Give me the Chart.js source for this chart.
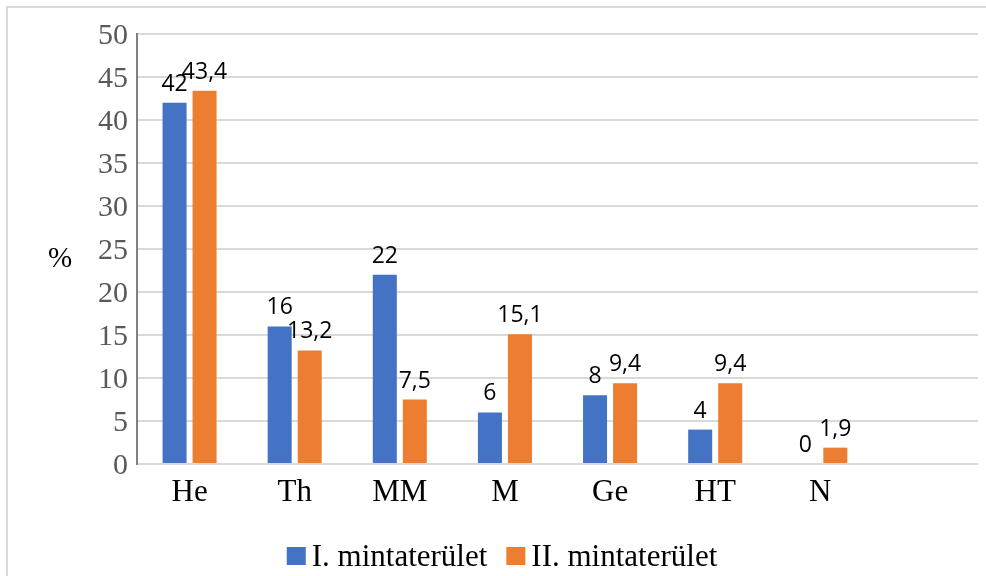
<!DOCTYPE html>
<html>
<head>
<meta charset="utf-8">
<script src="https://cdn.jsdelivr.net/npm/chart.js@4.4.1/dist/chart.umd.min.js"></script>
<style>
  html, body { margin: 0; padding: 0; background: #fff; overflow: hidden; }
  #wrap { width: 986px; height: 576px; position: relative; }
  canvas { display: block; }
</style>
</head>
<body>
<div id="wrap"><canvas id="c" width="986" height="576"></canvas></div>
<script>
// Categories (the last slot is intentionally empty)
const categories = ['He', 'Th', 'MM', 'M', 'Ge', 'HT', 'N', ''];
const seriesNames = ['I. mintaterület', 'II. mintaterület'];
const area1 = [42, 16, 22, 6, 8, 4, 0, null];
const area2 = [43.4, 13.2, 7.5, 15.1, 9.4, 9.4, 1.9, null];
const yMin = 0, yMax = 50, yStep = 5;
const unitLabel = '%';
const seriesColors = ['#4472C4', '#ED7D31'];

const SERIF = '"Liberation Serif", "Times New Roman", serif';
const SANS = '"Open Sans", "Liberation Sans", sans-serif';

// Light grey outer frame
const framePlugin = {
  id: 'frame',
  beforeDraw(chart) {
    const ctx = chart.ctx;
    ctx.save();
    ctx.fillStyle = '#d9d9d9';
    ctx.fillRect(6, 6, chart.width - 6, 2);
    ctx.fillRect(6, 6, 2, chart.height - 6);
    ctx.restore();
  }
};

// Value labels above each bar, decimal comma
const valueLabels = {
  id: 'valueLabels',
  afterDatasetsDraw(chart) {
    const ctx = chart.ctx;
    ctx.save();
    ctx.font = '23px ' + SANS;
    ctx.fillStyle = '#000';
    ctx.textAlign = 'center';
    ctx.textBaseline = 'alphabetic';
    chart.data.datasets.forEach((ds, di) => {
      const meta = chart.getDatasetMeta(di);
      meta.data.forEach((el, i) => {
        const v = ds.data[i];
        if (v === null || v === undefined) return;
        ctx.fillText(String(v).replace('.', ','), el.x, el.y - 12);
      });
    });
    ctx.restore();
  }
};

// Horizontal unit label left of the value axis
const unitPlugin = {
  id: 'unitLabel',
  afterDraw(chart) {
    const ctx = chart.ctx;
    ctx.save();
    ctx.font = '29px ' + SERIF;
    ctx.fillStyle = '#000';
    ctx.textAlign = 'center';
    ctx.textBaseline = 'alphabetic';
    ctx.fillText(unitLabel, 60, 267);
    ctx.restore();
  }
};

// Legend row at the bottom
const legendRow = {
  id: 'legendRow',
  afterDraw(chart) {
    const ctx = chart.ctx;
    ctx.save();
    ctx.font = '31px ' + SERIF;
    ctx.textBaseline = 'alphabetic';
    ctx.textAlign = 'left';
    const box = 19, gap = 6, itemGap = 19;
    const items = chart.data.datasets.map(ds => ({
      text: ds.label, color: ds.backgroundColor, w: ctx.measureText(ds.label).width
    }));
    const total = items.reduce((s, it) => s + box + gap + it.w, 0) + itemGap * (items.length - 1);
    let x = 502 - total / 2;
    items.forEach(it => {
      ctx.fillStyle = it.color;
      ctx.fillRect(x, 547, box, 18);
      ctx.fillStyle = '#000';
      ctx.fillText(it.text, x + box + gap, 566);
      x += box + gap + it.w + itemGap;
    });
    ctx.restore();
  }
};

new Chart(document.getElementById('c'), {
  type: 'bar',
  data: {
    labels: categories,
    datasets: [
      { label: seriesNames[0], data: area1, backgroundColor: seriesColors[0] },
      { label: seriesNames[1], data: area2, backgroundColor: seriesColors[1] }
    ]
  },
  options: {
    responsive: false,
    devicePixelRatio: 1,
    animation: false,
    categoryPercentage: 0.571,
    barPercentage: 0.8,
    layout: { padding: { left: 0, right: 8, top: 34, bottom: 0 } },
    plugins: {
      legend: { display: false },
      tooltip: { enabled: false }
    },
    scales: {
      x: {
        grid: { display: false },
        border: { display: false },
        ticks: { font: { family: SERIF, size: 31 }, color: '#000', padding: 2 },
        afterFit(scale) { scale.height = 112; }
      },
      y: {
        min: yMin, max: yMax,
        ticks: { stepSize: yStep, font: { family: SERIF, size: 30 }, color: '#595959', padding: 9, labelOffset: 2 },
        grid: { color: '#d9d9d9', lineWidth: 2, drawTicks: false },
        border: { color: '#808080', width: 2 },
        afterFit(scale) { scale.width = 137; }
      }
    }
  },
  plugins: [framePlugin, valueLabels, unitPlugin, legendRow]
});
</script>
</body>
</html>
